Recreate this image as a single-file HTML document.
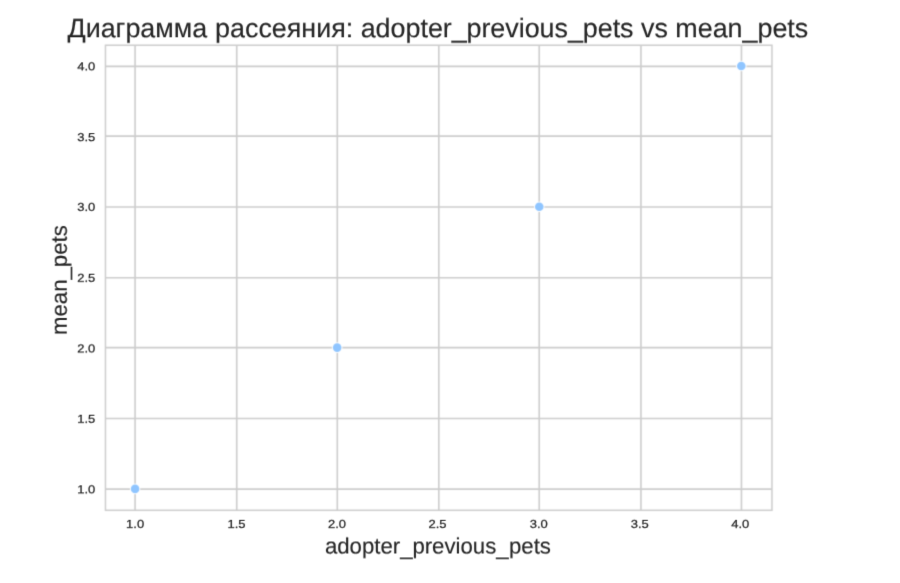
<!DOCTYPE html>
<html lang="ru">
<head>
<meta charset="utf-8">
<title>Диаграмма рассеяния: adopter_previous_pets vs mean_pets</title>
<style>
html,body{margin:0;padding:0;background:#fff;}
body{width:900px;height:583px;overflow:hidden;}
svg{display:block;}
text{font-family:"Liberation Sans",sans-serif;text-rendering:geometricPrecision;fill:#262626;stroke:#262626;stroke-width:0.15;}
.tick{font-size:11.5px;stroke-width:0.25;}
.lab{font-size:22.2px;}
.title{font-size:26.86px;letter-spacing:0px;}
</style>
</head>
<body>
<svg width="900" height="583" viewBox="0 0 900 583" role="img" aria-label="Диаграмма рассеяния: adopter_previous_pets vs mean_pets">
<defs>
<filter id="f0" x="0" y="0" width="900" height="583" filterUnits="userSpaceOnUse" color-interpolation-filters="sRGB"><feConvolveMatrix order="3" kernelMatrix="0.0277 0.1110 0.0277 0.1110 0.4452 0.1110 0.0277 0.1110 0.0277" edgeMode="duplicate" preserveAlpha="false"/></filter>
<filter id="f1" x="0" y="0" width="900" height="583" filterUnits="userSpaceOnUse" color-interpolation-filters="sRGB"><feConvolveMatrix order="3" kernelMatrix="0.0199 0.1469 0.0199 0.0806 0.5958 0.0806 0.0060 0.0443 0.0060" edgeMode="duplicate" preserveAlpha="false"/></filter>
<filter id="f2" x="0" y="0" width="900" height="583" filterUnits="userSpaceOnUse" color-interpolation-filters="sRGB"><feConvolveMatrix order="3" kernelMatrix="0.0025 0.0184 0.0025 0.0690 0.5101 0.0690 0.0350 0.2584 0.0350" edgeMode="duplicate" preserveAlpha="false"/></filter>
<filter id="f3" x="0" y="0" width="900" height="583" filterUnits="userSpaceOnUse" color-interpolation-filters="sRGB"><feConvolveMatrix order="3" kernelMatrix="0.0294 0.2171 0.0294 0.0737 0.5448 0.0737 0.0034 0.0250 0.0034" edgeMode="duplicate" preserveAlpha="false"/></filter>
<filter id="f4" x="0" y="0" width="900" height="583" filterUnits="userSpaceOnUse" color-interpolation-filters="sRGB"><feConvolveMatrix order="3" kernelMatrix="0.0015 0.0107 0.0015 0.0598 0.4421 0.0598 0.0452 0.3341 0.0452" edgeMode="duplicate" preserveAlpha="false"/></filter>
<filter id="f5" x="0" y="0" width="900" height="583" filterUnits="userSpaceOnUse" color-interpolation-filters="sRGB"><feConvolveMatrix order="3" kernelMatrix="0.0213 0.1574 0.0213 0.0797 0.5892 0.0797 0.0055 0.0404 0.0055" edgeMode="duplicate" preserveAlpha="false"/></filter>
<filter id="f6" x="0" y="0" width="900" height="583" filterUnits="userSpaceOnUse" color-interpolation-filters="sRGB"><feConvolveMatrix order="3" kernelMatrix="0.0066 0.0484 0.0066 0.0814 0.6016 0.0814 0.0185 0.1370 0.0185" edgeMode="duplicate" preserveAlpha="false"/></filter>
<filter id="f7" x="0" y="0" width="900" height="583" filterUnits="userSpaceOnUse" color-interpolation-filters="sRGB"><feConvolveMatrix order="3" kernelMatrix="0.0528 0.3899 0.0528 0.0528 0.3899 0.0528 0.0010 0.0071 0.0010" edgeMode="duplicate" preserveAlpha="false"/></filter>
<filter id="f8" x="0" y="0" width="900" height="583" filterUnits="userSpaceOnUse" color-interpolation-filters="sRGB"><feConvolveMatrix order="3" kernelMatrix="0.0321 0.0715 0.0029 0.2373 0.5281 0.0215 0.0321 0.0715 0.0029" edgeMode="duplicate" preserveAlpha="false"/></filter>
<filter id="f9" x="0" y="0" width="900" height="583" filterUnits="userSpaceOnUse" color-interpolation-filters="sRGB"><feConvolveMatrix order="3" kernelMatrix="0.0029 0.0215 0.0029 0.0715 0.5281 0.0715 0.0321 0.2373 0.0321" edgeMode="duplicate" preserveAlpha="false"/></filter>
</defs>
<g filter="url(#f0)">
<rect x="0" y="0" width="900" height="583" fill="#ffffff"/>
<g stroke="#cccccc" stroke-width="1.6" fill="none">
<line x1="135.08" y1="45.25" x2="135.08" y2="510.30"/>
<line x1="236.72" y1="45.25" x2="236.72" y2="510.30"/>
<line x1="337.32" y1="45.25" x2="337.32" y2="510.30"/>
<line x1="438.80" y1="45.25" x2="438.80" y2="510.30"/>
<line x1="539.23" y1="45.25" x2="539.23" y2="510.30"/>
<line x1="640.95" y1="45.25" x2="640.95" y2="510.30"/>
<line x1="741.45" y1="45.25" x2="741.45" y2="510.30"/>
<line x1="105.46" y1="489.12" x2="771.95" y2="489.12"/>
<line x1="105.46" y1="418.46" x2="771.95" y2="418.46"/>
<line x1="105.46" y1="347.58" x2="771.95" y2="347.58"/>
<line x1="105.46" y1="277.75" x2="771.95" y2="277.75"/>
<line x1="105.46" y1="206.97" x2="771.95" y2="206.97"/>
<line x1="105.46" y1="136.10" x2="771.95" y2="136.10"/>
<line x1="105.46" y1="66.40" x2="771.95" y2="66.40"/>
</g>
<rect x="105.46" y="45.25" width="666.49" height="465.05" fill="none" stroke="#cccccc" stroke-width="1.5"/>
<circle cx="135.10" cy="488.90" r="5.3" fill="#ffffff"/><circle cx="135.10" cy="488.90" r="4.3" fill="#8fc5ff"/>
<circle cx="337.17" cy="347.60" r="5.3" fill="#ffffff"/><circle cx="337.17" cy="347.60" r="4.3" fill="#8fc5ff"/>
<circle cx="539.27" cy="206.75" r="5.3" fill="#ffffff"/><circle cx="539.27" cy="206.75" r="4.3" fill="#8fc5ff"/>
<circle cx="741.30" cy="65.98" r="5.3" fill="#ffffff"/><circle cx="741.30" cy="65.98" r="4.3" fill="#8fc5ff"/>
</g>
<g text-anchor="middle" filter="url(#f1)">
<text class="tick" transform="translate(135.14 528) scale(1.128 1)">1.0</text>
<text class="tick" transform="translate(236.56 528) scale(1.128 1)">1.5</text>
<text class="tick" transform="translate(337.02 528) scale(1.128 1)">2.0</text>
<text class="tick" transform="translate(437.54 528) scale(1.128 1)">2.5</text>
<text class="tick" transform="translate(538.78 528) scale(1.128 1)">3.0</text>
<text class="tick" transform="translate(639.71 528) scale(1.128 1)">3.5</text>
<text class="tick" transform="translate(740.21 528) scale(1.128 1)">4.0</text>
</g>
<g filter="url(#f2)"><text class="tick" text-anchor="end" transform="translate(95.25 493) scale(1.128 1)">1.0</text></g>
<g filter="url(#f3)"><text class="tick" text-anchor="end" transform="translate(95.25 423) scale(1.128 1)">1.5</text></g>
<g filter="url(#f4)"><text class="tick" text-anchor="end" transform="translate(95.25 352) scale(1.128 1)">2.0</text></g>
<g filter="url(#f3)"><text class="tick" text-anchor="end" transform="translate(95.25 282) scale(1.128 1)">2.5</text></g>
<g filter="url(#f5)"><text class="tick" text-anchor="end" transform="translate(95.25 211) scale(1.128 1)">3.0</text></g>
<g filter="url(#f6)"><text class="tick" text-anchor="end" transform="translate(95.25 141) scale(1.128 1)">3.5</text></g>
<g filter="url(#f2)"><text class="tick" text-anchor="end" transform="translate(95.25 70) scale(1.128 1)">4.0</text></g>
<g filter="url(#f7)"><text class="lab" text-anchor="middle" x="437.9" y="554">adopter<tspan dy="1">_</tspan><tspan dx="-0.1" dy="-1">previous</tspan><tspan dy="1">_</tspan><tspan dx="0.35" dy="-1">pets</tspan></text></g>
<g filter="url(#f8)"><text class="lab" text-anchor="middle" transform="translate(67 280.1) rotate(-90)">mean<tspan dy="1">_</tspan><tspan dy="-1">pets</tspan></text></g>
<g filter="url(#f9)"><text class="title" text-anchor="middle" x="437.85" y="37">Диаграмма <tspan dx="0.5">рассеяния: </tspan><tspan dx="0.05">adopter</tspan>_<tspan dx="-0.3">previous</tspan>_<tspan dx="-0.15">pets vs mean</tspan>_pets</text></g>
</svg>
</body>
</html>
